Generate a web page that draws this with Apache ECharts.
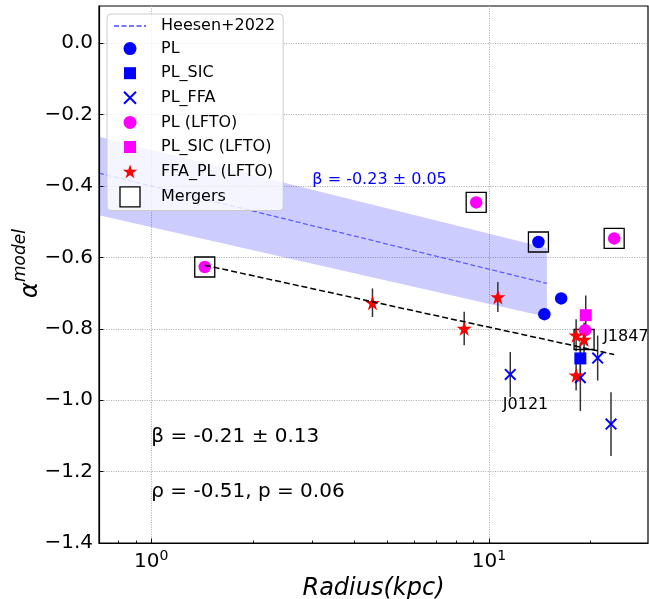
<!DOCTYPE html>
<html><head><meta charset="utf-8">
<script src="https://cdn.jsdelivr.net/npm/echarts@6/dist/echarts.min.js"></script>
<style>html,body{margin:0;padding:0;background:#fff}#c{width:649px;height:599px}</style>
</head><body><div id="c"></div>
<script>
// ---------------- data (radius in kpc, alpha_model, error) ----------------
const plR = [14.02, 14.6, 16.37];
const plA = [-0.557, -0.759, -0.715];
const plSicR = [18.66];
const plSicA = [-0.883];
const plSicErr = [0.045];
const plFfaR = [11.57, 18.66, 21.0, 23.0];
const plFfaA = [-0.928, -0.937, -0.882, -1.067];
const plFfaErr = [0.063, 0.093, 0.063, 0.089];
const lftoPlR = [1.44, 9.17, 23.5, 19.27];
const lftoPlA = [-0.627, -0.446, -0.547, -0.804];
const lftoPlErr = [0.015, 0.0, 0.0, 0.02];
const lftoSicR = [19.36];
const lftoSicA = [-0.762];
const lftoSicErr = [0.055];
const ffaR = [4.52, 8.45, 10.63, 18.13, 19.14, 18.13];
const ffaA = [-0.727, -0.799, -0.711, -0.818, -0.830, -0.930];
const ffaErr = [0.04, 0.047, 0.042, 0.045, 0.047, 0.043];
const mergR = [1.44, 9.17, 14.02, 23.5, 19.14];
const mergA = [-0.627, -0.446, -0.557, -0.547, -0.830];
// Heesen+2022 relation and band
const heesenR = [0.7, 14.85];
const heesenA = [-0.364, -0.673];
const bandR = [0.7, 14.85];
const bandTop = [-0.262, -0.574];
const bandBot = [-0.482, -0.767];
// fit to this sample
const fitR = [1.44, 23.5];
const fitA = [-0.622, -0.872];
// annotations [radius, alpha, text]
const annotations = [
  [3.0, -0.383, 'β = -0.23 ± 0.05', '#0000ff', 16],
  [1.0, -1.103, 'β = -0.21 ± 0.13', '#000', 20],
  [1.0, -1.256, 'ρ = -0.51, p = 0.06', '#000', 20],
  [11.0, -1.013, 'J0121', '#000', 16],
  [21.8, -0.823, 'J1847', '#000', 16]
];
// axis
const xMin = 0.7, xMax = 29.6;
const xMajor = [1, 10];
const xMinor = [0.8, 0.9, 2, 3, 4, 5, 6, 7, 8, 9, 20];
const yMin = -1.4, yMax = 0.104;
const yTicks = [-1.4, -1.2, -1.0, -0.8, -0.6, -0.4, -0.2, 0.0];

// ---------------- helpers ----------------
const L = v => Math.log10(v);
const pts = (R, A) => R.map((r, i) => [L(r), A[i]]);
function starBody(cx, cy, ro) {
  let s = '';
  for (let k = 0; k < 10; k++) {
    const ang = -Math.PI / 2 + k * Math.PI / 5;
    const rad = k % 2 === 0 ? ro : ro * 0.382;
    s += (k === 0 ? 'M' : 'L') + (cx + rad * Math.cos(ang)).toFixed(3) + ',' + (cy + rad * Math.sin(ang)).toFixed(3);
  }
  return s + 'Z';
}
function xBody(c, half, h) {
  const d = h / Math.SQRT2, a = c - half, b = c + half;
  const f = (x, y) => x.toFixed(3) + ',' + y.toFixed(3);
  return 'M' + f(a + d, a - d) + 'L' + f(b + d, b - d) + 'L' + f(b - d, b + d) + 'L' + f(a - d, a + d) + 'Z' +
         'M' + f(b + d, a + d) + 'L' + f(a + d, b + d) + 'L' + f(a - d, b - d) + 'L' + f(b - d, a - d) + 'Z';
}
const pad = body => 'path://M0,0L0,0M20,20L20,20' + body;
const circleBody = r => 'M' + (10 - r) + ',10A' + r + ',' + r + ',0,1,1,' + (10 + r) + ',10A' + r + ',' + r + ',0,1,1,' + (10 - r) + ',10Z';
const squareBody = s => 'M' + (10 - s / 2) + ',' + (10 - s / 2) + 'L' + (10 + s / 2) + ',' + (10 - s / 2) + 'L' + (10 + s / 2) + ',' + (10 + s / 2) + 'L' + (10 - s / 2) + ',' + (10 + s / 2) + 'Z';

const errData = [];
function addErr(R, A, E) { R.forEach((r, i) => { if (E[i] > 0) errData.push([L(r), A[i] - E[i], A[i] + E[i]]); }); }
addErr(plSicR, plSicA, plSicErr);
addErr(plFfaR, plFfaA, plFfaErr);
addErr(lftoPlR, lftoPlA, lftoPlErr);
addErr(lftoSicR, lftoSicA, lftoSicErr);
addErr(ffaR, ffaA, ffaErr);

const FONT = 'DejaVu Sans';
const chart = echarts.init(document.getElementById('c'));
const mk = (name, data, symbol, size, color) => ({
  type: 'scatter', name, data, symbol, symbolSize: size, silent: true,
  itemStyle: { color, opacity: 1 }, emphasis: { disabled: true }
});
const option = {
  animation: false,
  textStyle: { fontFamily: FONT },
  grid: { left: 99, right: 1, top: 6, bottom: 56, containLabel: false, outerBoundsMode: 'none', show: true, borderColor: '#000', borderWidth: 1.2, backgroundColor: 'transparent' },
  legend: {
    left: 107, top: 14, orient: 'vertical', padding: [4, 8, 3, 6],
    itemWidth: 32, itemHeight: 20, itemGap: 4.6,
    backgroundColor: 'rgba(255,255,255,0.8)', borderColor: '#cccccc', borderWidth: 1, borderRadius: 4,
    selectedMode: false,
    textStyle: { fontSize: 16, color: '#000', fontFamily: FONT, padding: [0, 0, 0, 10] },
    data: [
      { name: 'Heesen+2022', itemStyle: { opacity: 0 } },
      { name: 'PL', icon: pad(circleBody(6.5)) },
      { name: 'PL_SIC', icon: pad(squareBody(12)) },
      { name: 'PL_FFA', icon: pad(xBody(10, 6, 1.0)) },
      { name: 'PL (LFTO)', icon: pad(circleBody(6.5)) },
      { name: 'PL_SIC (LFTO)', icon: pad(squareBody(12)) },
      { name: 'FFA_PL (LFTO)', icon: pad(starBody(10, 10.6, 7.6)) },
      { name: 'Mergers', icon: 'path://M0,0L20,0L20,20L0,20Z', itemStyle: { color: '#fff', borderColor: '#000', borderWidth: 1.3 } }
    ]
  },
  xAxis: [{
    type: 'value', min: L(xMin), max: L(xMax),
    name: 'Radius(kpc)', nameLocation: 'middle', nameGap: 32,
    nameTextStyle: { fontSize: 24, fontStyle: 'italic', color: '#000', fontFamily: FONT },
    axisLine: { show: true, onZero: false, lineStyle: { color: '#000', width: 1.2 } },
    axisTick: { show: true, inside: true, length: 4.5, lineStyle: { color: '#000', width: 1 }, customValues: xMajor.map(L) },
    axisLabel: {
      customValues: xMajor.map(L), margin: 6, color: '#000', fontFamily: FONT,
      formatter: v => '{b|10}{s|' + Math.round(v) + '}',
      rich: { b: { fontSize: 20, fontFamily: FONT, color: '#000' }, s: { fontSize: 14, fontFamily: FONT, color: '#000', padding: [0, 0, 11, 0] } }
    },
    splitLine: { show: true, lineStyle: { color: '#aaaaaa', width: 1, type: [1, 1.4] } }
  }, {
    type: 'value', min: L(xMin), max: L(xMax), position: 'bottom',
    axisLine: { show: false, onZero: false }, axisLabel: { show: false }, splitLine: { show: false },
    axisTick: { show: true, inside: true, length: 2.5, lineStyle: { color: '#000', width: 0.9 }, customValues: xMinor.map(L) }
  }],
  yAxis: {
    type: 'value', min: yMin, max: yMax,
    name: '{a|α}{s|model}', nameLocation: 'middle', nameGap: 50, nameRotate: 90, nameMoveOverlap: false,
    nameTextStyle: {
      color: '#000', padding: [0, 0, 0, 22],
      rich: {
        a: { fontSize: 24, fontStyle: 'italic', fontFamily: FONT, color: '#000' },
        s: { fontSize: 17, fontStyle: 'italic', fontFamily: FONT, color: '#000', padding: [0, 0, 20, 0] }
      }
    },
    axisLine: { show: true, onZero: false, lineStyle: { color: '#000', width: 1.2 } },
    axisTick: { show: true, inside: true, length: 4.5, lineStyle: { color: '#000', width: 1 }, customValues: yTicks },
    axisLabel: {
      customValues: yTicks, margin: 6, fontSize: 20, color: '#000', fontFamily: FONT,
      formatter: v => (v < -1e-9 ? '\u2212' : '') + Math.abs(v).toFixed(1)
    },
    splitLine: { show: true, lineStyle: { color: '#aaaaaa', width: 1, type: [1, 1.4] } }
  },
  series: [
    {
      type: 'custom', name: 'band', silent: true, clip: true,
      data: bandR.map((r, i) => [L(r), bandTop[i], bandBot[i]]),
      encode: { x: 0, y: [1, 2] },
      renderItem: (params, api) => {
        if (params.dataIndex !== 0) return null;
        const top = bandR.map((r, i) => api.coord([L(r), bandTop[i]]));
        const bot = bandR.map((r, i) => api.coord([L(r), bandBot[i]])).reverse();
        return { type: 'polygon', shape: { points: top.concat(bot) }, style: { fill: 'rgba(0,0,255,0.2)' } };
      }
    },
    {
      type: 'line', name: 'Heesen+2022', data: pts(heesenR, heesenA), symbol: 'none', silent: true,
      lineStyle: { color: 'rgba(0,0,255,0.55)', width: 1.3, type: [5, 2.5] }, itemStyle: { color: 'rgba(0,0,255,0.55)' }
    },
    {
      type: 'line', name: 'fit', data: pts(fitR, fitA), symbol: 'none', silent: true,
      lineStyle: { color: '#000', width: 1.5, type: [6, 3] }
    },
    {
      type: 'custom', name: 'err', silent: true, data: errData, encode: { x: 0, y: [1, 2] },
      renderItem: (params, api) => {
        const p1 = api.coord([api.value(0), api.value(1)]);
        const p2 = api.coord([api.value(0), api.value(2)]);
        return { type: 'line', shape: { x1: p1[0], y1: p1[1], x2: p2[0], y2: p2[1] }, style: { stroke: '#333', lineWidth: 1.5 } };
      }
    },
    {
      type: 'scatter', name: 'Mergers', data: pts(mergR, mergA), symbol: 'rect', symbolSize: 20, silent: true,
      itemStyle: { color: 'rgba(0,0,0,0)', borderColor: '#000', borderWidth: 1.3, opacity: 1 }
    },
    mk('PL', pts(plR, plA), 'circle', 12.5, '#0000ff'),
    mk('PL_SIC', pts(plSicR, plSicA), 'rect', 12, '#0000ff'),
    mk('PL_FFA', pts(plFfaR, plFfaA), 'path://' + xBody(5, 5, 0.9), 12, '#0000ff'),
    mk('PL (LFTO)', pts(lftoPlR, lftoPlA), 'circle', 12.5, '#ff00ff'),
    mk('PL_SIC (LFTO)', pts(lftoSicR, lftoSicA), 'rect', 12, '#ff00ff'),
    mk('FFA_PL (LFTO)', pts(ffaR, ffaA), 'path://' + starBody(10, 10, 10), 15, '#ff0000'),
    {
      type: 'scatter', name: 'annot', silent: true, symbol: 'circle', symbolSize: 0,
      itemStyle: { color: 'rgba(0,0,0,0)', opacity: 1 },
      data: annotations.map(a => ({
        value: [L(a[0]), a[1]],
        label: { show: true, formatter: a[2], color: a[3], opacity: 1, fontSize: a[4], fontFamily: FONT, position: 'right', distance: 0, align: 'left', verticalAlign: 'middle' }
      }))
    }
  ]
};
chart.setOption(option);
</script></body></html>
